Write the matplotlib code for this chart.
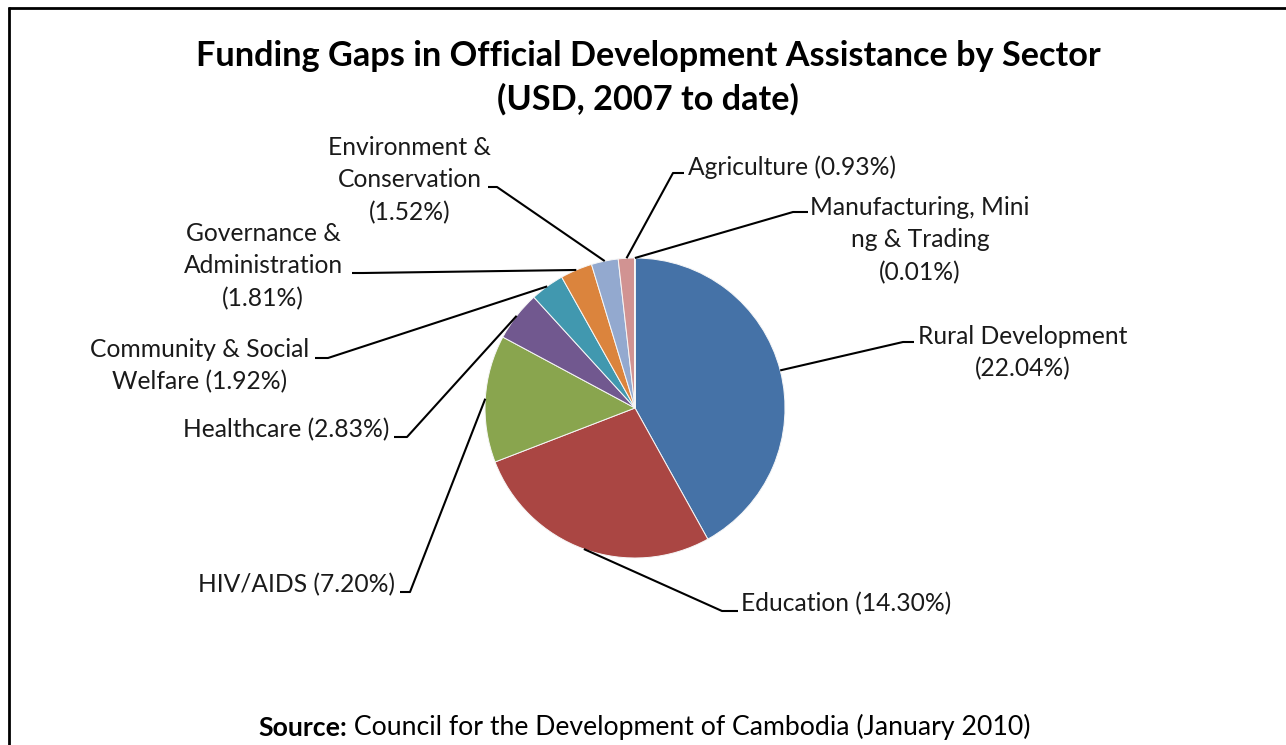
import matplotlib
matplotlib.use("Agg")
import matplotlib.pyplot as plt
import numpy as np

# Sector funding gaps (share of ODA, %), clockwise from 12 o'clock
sectors = ["Rural Development", "Education", "HIV/AIDS", "Healthcare",
           "Community & Social Welfare", "Governance & Administration",
           "Environment & Conservation", "Agriculture",
           "Manufacturing, Mining & Trading"]
shares = [22.04, 14.30, 7.20, 2.83, 1.92, 1.81, 1.52, 0.93, 0.01]

# Label text as wrapped on the chart
label_templates = ["Rural Development\n({:.2f}%)",
                   "Education ({:.2f}%)",
                   "HIV/AIDS ({:.2f}%)",
                   "Healthcare ({:.2f}%)",
                   "Community & Social\nWelfare ({:.2f}%)",
                   "Governance &\nAdministration\n({:.2f}%)",
                   "Environment &\nConservation\n({:.2f}%)",
                   "Agriculture ({:.2f}%)",
                   "Manufacturing, Mini\nng & Trading\n({:.2f}%)"]

colors = ["#4572A7", "#AA4643", "#89A54E", "#71588F", "#4198AF",
          "#DB843D", "#93A9CF", "#D19392", "#B9CD96"]

title = "Funding Gaps in Official Development Assistance by Sector\n(USD, 2007 to date)"
source_bold = "Source:"
source_rest = " Council for the Development of Cambodia (January 2010)"

W, H = 1286, 745
FONT = "Lato"
LABEL_SIZE = 17.7

fig = plt.figure(figsize=(W / 100, H / 100), dpi=100)
ax = fig.add_axes([0, 0, 1, 1])


def Y(py):
    # pixel row (top-down) -> data y (bottom-up)
    return H - py


center = (635, Y(408))
radius = 150

wedges, _ = ax.pie(shares, colors=colors, startangle=90, counterclock=False,
                   center=center, radius=radius,
                   wedgeprops=dict(edgecolor="#f7f7f7", linewidth=0.7))

# label placement: (text x, text y, ha, knee x, knee y, end x)
layout = [
    (1023, 353, "center", 903, 342, 914),
    (846, 604, "center", 722, 611, 738),
    (395, 585, "right", 410, 592, 400),
    (389, 430, "right", 407, 437, 394),
    (200, 366, "center", 328, 358, 315),
    (263, 266, "center", 363, 273, 352),
    (410, 180, "center", 497, 187, 488),
    (688, 167, "left", 673, 173, 684),
    (920, 240, "center", 793, 212, 808),
]

for w, tmpl, val, (tx, ty, ha, kx, ky, ex) in zip(wedges, label_templates, shares, layout):
    mid = np.deg2rad((w.theta1 + w.theta2) / 2)
    px = center[0] + radius * np.cos(mid)
    py = center[1] + radius * np.sin(mid)
    ax.plot([px, kx, ex], [py, Y(ky), Y(ky)], color="black", lw=1.5,
            solid_capstyle="butt", zorder=3)
    ax.text(tx, Y(ty), tmpl.format(val), ha=ha, va="center",
            multialignment="center", fontsize=LABEL_SIZE, family=FONT,
            color="#1a1a1a", linespacing=1.48)

ax.text(648, Y(78), title, ha="center", va="center", fontsize=24.7,
        fontweight="bold", family=FONT, color="black", linespacing=1.42)

t_bold = ax.text(258, Y(728), source_bold, ha="left", va="center",
                 fontsize=19.2, fontweight="bold", family=FONT, color="black")
ax.annotate(source_rest, xy=(1, 0), xycoords=t_bold, ha="left", va="bottom",
            fontsize=19.2, family=FONT, color="black")

# frame edges
ax.plot([8, W], [Y(7.5), Y(7.5)], color="black", lw=2, solid_capstyle="butt")
ax.plot([9, 9], [Y(7), 0], color="black", lw=2, solid_capstyle="butt")

ax.set_xlim(0, W)
ax.set_ylim(0, H)
ax.set_aspect("equal", adjustable="box")
ax.axis("off")

fig.savefig("out.png", dpi=100, facecolor="white")
